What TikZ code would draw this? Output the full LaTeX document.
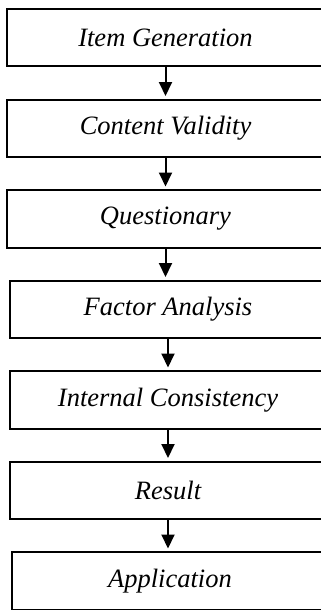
\documentclass[tikz,border=0pt]{standalone}
\usepackage{fontspec}
\setmainfont{Liberation Serif}
\usetikzlibrary{positioning}
\usetikzlibrary{arrows.meta}

\begin{document}
\begin{tikzpicture}[every node/.style={font=\fontsize{26.5}{30}\selectfont\itshape}, node distance=33pt,
	etape/.style={draw, rectangle, line width=2pt, outer sep=0pt, minimum width=317pt, minimum height=57.5pt, inner sep=0pt, anchor=north},
	fleche/.style={-{Triangle[width=13pt,length=14pt]}, line width=2pt, shorten >=3.5pt}]
			\useasboundingbox (0,0) rectangle (321pt,-610pt);
			% Premiere etape "Item Generation"
			\node[etape] (item) at (165.5pt,-9pt) {Item Generation};
			%
			% Etapes suivantes, les unes sous les autres
			\node[etape, below=of item] (valid) {Content Validity};
			\node[etape, below=of valid] (quest) {Questionary};
			\node[etape, below=of quest, xshift=2.5pt] (factor) {Factor Analysis};
			\node[etape, below=of factor] (consist) {Internal Consistency};
			\node[etape, below=of consist] (result) {Result};
			\node[etape, below=of result, xshift=2pt] (appli) {Application};
			%
			% Fleches entre les etapes
			\draw[fleche] (item.south) -- (item.south |- valid.north);
			\draw[fleche] (valid.south) -- (valid.south |- quest.north);
			\draw[fleche] (quest.south) -- (quest.south |- factor.north);
			\draw[fleche] (factor.south) -- (factor.south |- consist.north);
			\draw[fleche] (consist.south) -- (consist.south |- result.north);
			\draw[fleche] (result.south) -- (result.south |- appli.north);
		\end{tikzpicture}
\end{document}
